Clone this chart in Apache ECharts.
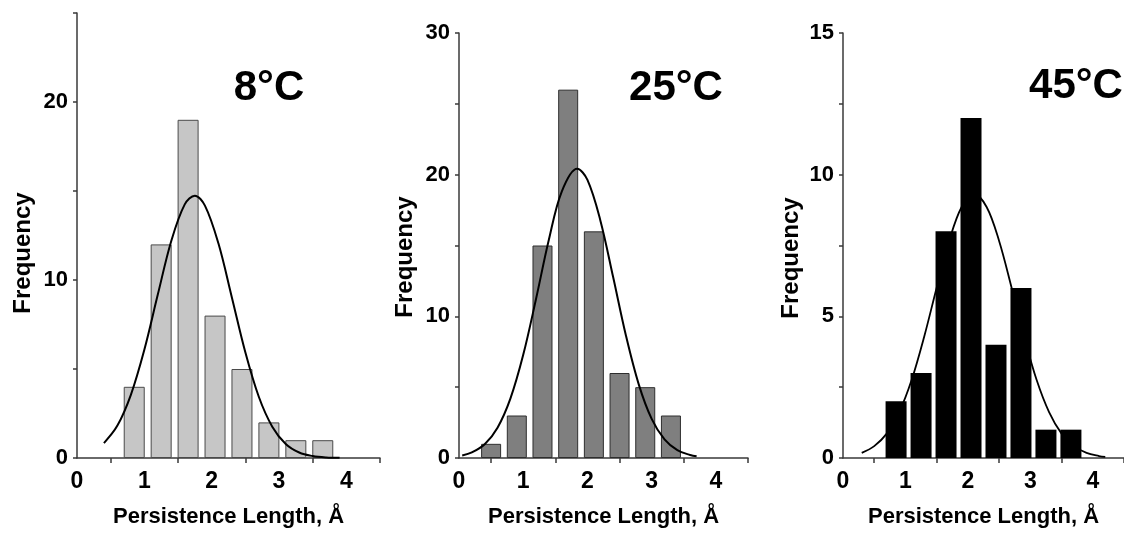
<!DOCTYPE html>
<html>
<head>
<meta charset="utf-8">
<script src="https://cdn.jsdelivr.net/npm/echarts@6/dist/echarts.min.js"></script>
<style>
html,body{margin:0;padding:0;background:#fff;}
#c{width:1124px;height:533px;}
</style>
</head>
<body>
<div id="c"></div>
<script>
// ---- data ----
const panelTitles = ['8°C', '25°C', '45°C'];
const xTitle = 'Persistence Length, Å';
const yTitle = 'Frequency';

const binCenters8 = [0.85, 1.25, 1.65, 2.05, 2.45, 2.85, 3.25, 3.65];
const freq8 = [4, 12, 19, 8, 5, 2, 1, 1];
const binCenters25 = [0.5, 0.9, 1.3, 1.7, 2.1, 2.5, 2.9, 3.3];
const freq25 = [1, 3, 15, 26, 16, 6, 5, 3];
const binCenters45 = [0.85, 1.25, 1.65, 2.05, 2.45, 2.85, 3.25, 3.65];
const freq45 = [2, 3, 8, 12, 4, 6, 1, 1];

const fitX8 = [0.4, 0.6, 0.8, 1.0, 1.2, 1.4, 1.6, 1.75, 1.9, 2.1, 2.3, 2.5, 2.7, 2.9, 3.1, 3.3, 3.5, 3.7, 3.9];
const fitY8 = [0.84, 1.82, 3.55, 6.08, 9.18, 12.19, 14.25, 14.74, 14.18, 12.06, 9.02, 5.94, 3.44, 1.76, 0.79, 0.31, 0.11, 0.03, 0.01];
const fitX25 = [0.05, 0.2, 0.4, 0.6, 0.8, 1.0, 1.2, 1.4, 1.6, 1.84, 2.0, 2.2, 2.4, 2.6, 2.8, 3.0, 3.2, 3.4, 3.6, 3.7];
const fitY25 = [0.18, 0.39, 0.97, 2.14, 4.19, 7.28, 11.24, 15.42, 18.81, 20.42, 19.63, 16.79, 12.77, 8.63, 5.18, 2.76, 1.31, 0.55, 0.21, 0.12];
const fitX45 = [0.3, 0.5, 0.7, 0.9, 1.1, 1.3, 1.5, 1.7, 1.9, 2.1, 2.3, 2.5, 2.7, 2.9, 3.1, 3.3, 3.5, 3.7, 3.9, 4.1, 4.2];
const fitY45 = [0.18, 0.42, 0.86, 1.62, 2.76, 4.28, 6.01, 7.66, 8.86, 9.30, 8.86, 7.66, 6.01, 4.28, 2.76, 1.62, 0.86, 0.42, 0.18, 0.07, 0.04];

const xTickValues = [0.5, 1.5, 2.5, 3.5, 4.5];
const xLabelValues = [0, 1, 2, 3, 4];
const yMax = [25, 30, 15];
const yTickStep = [5, 5, 2.5];
const yLabelValues = [[0, 10, 20], [0, 10, 20, 30], [0, 5, 10, 15]];

// ---- layout / style ----
const FONT = '"Liberation Sans", Arial, Helvetica, sans-serif';
const grids = [
  {left: 77, top: 13, width: 303, height: 448},
  {left: 459, top: 33, width: 289, height: 430},
  {left: 843, top: 33, width: 287, height: 430}
];
const barStyles = [
  {color: '#c6c6c6', borderColor: '#4a4a4a', borderWidth: 1},
  {color: '#7f7f7f', borderColor: '#2e2e2e', borderWidth: 1},
  {color: '#000000', borderColor: '#000000', borderWidth: 0}
];
const barWidths = [21, 20, 21];
const lineWidths = [2, 2, 1.8];
const binSets = [[binCenters8, freq8], [binCenters25, freq25], [binCenters45, freq45]];
const fitSets = [[fitX8, fitY8], [fitX25, fitY25], [fitX45, fitY45]];
const titlePos = [[269, 88], [676, 88], [1076, 86]];
const freqPos = [[23, 253], [405, 257], [791, 258]];

const axisLineStyle = {color: '#3a3a3a', width: 1.5};
const xAxes = [], yAxes = [], series = [], graphics = [];

for (let i = 0; i < 3; i++) {
  xAxes.push({
    type: 'value', gridIndex: i, min: 0, max: 4.5, interval: 0.5,
    axisLine: {show: true, onZero: false, lineStyle: axisLineStyle},
    axisTick: {show: true, customValues: xTickValues, length: 5, lineStyle: axisLineStyle},
    axisLabel: {customValues: xLabelValues, fontSize: 23, fontWeight: 'bold', color: '#000', fontFamily: FONT, margin: 12},
    splitLine: {show: false},
    name: xTitle, nameLocation: 'middle', nameGap: 48,
    nameTextStyle: {fontSize: 22, fontWeight: 'bold', color: '#000', fontFamily: FONT}
  });
  const ticks = [];
  for (let v = 0; v <= yMax[i] + 1e-9; v += yTickStep[i]) ticks.push(+v.toFixed(2));
  yAxes.push({
    type: 'value', gridIndex: i, min: 0, max: yMax[i], interval: yTickStep[i],
    axisLine: {show: true, onZero: false, lineStyle: axisLineStyle},
    axisTick: {show: true, customValues: ticks, length: 4, lineStyle: axisLineStyle},
    axisLabel: {customValues: yLabelValues[i], fontSize: 22, fontWeight: 'bold', color: '#000', fontFamily: FONT, margin: 9},
    splitLine: {show: false}
  });
  const [cx, cy] = binSets[i];
  series.push({
    type: 'bar', xAxisIndex: i, yAxisIndex: i,
    data: cx.map((c, j) => [c, cy[j]]),
    barWidth: barWidths[i],
    itemStyle: barStyles[i],
    silent: true
  });
  const [fx, fy] = fitSets[i];
  series.push({
    type: 'line', xAxisIndex: i, yAxisIndex: i,
    data: fx.map((x, j) => [x, fy[j]]),
    smooth: 0.35, showSymbol: false, symbol: 'none',
    lineStyle: {color: '#000', width: lineWidths[i]},
    z: 5, silent: true
  });
  graphics.push({
    type: 'text', x: titlePos[i][0], y: titlePos[i][1],
    style: {text: panelTitles[i], fontSize: 42, fontWeight: 'bold', fontFamily: FONT, fill: '#000',
      align: 'center', verticalAlign: 'middle', textAlign: 'center', textVerticalAlign: 'middle'}
  });
  graphics.push({
    type: 'text', x: freqPos[i][0], y: freqPos[i][1], rotation: Math.PI / 2,
    style: {text: yTitle, fontSize: 24, fontWeight: 'bold', fontFamily: FONT, fill: '#000',
      align: 'center', verticalAlign: 'middle', textAlign: 'center', textVerticalAlign: 'middle'}
  });
}

const chart = echarts.init(document.getElementById('c'), null, {renderer: 'canvas'});
chart.setOption({
  animation: false,
  backgroundColor: '#fff',
  grid: grids,
  xAxis: xAxes,
  yAxis: yAxes,
  series: series,
  graphic: graphics
});
</script>
</body>
</html>
